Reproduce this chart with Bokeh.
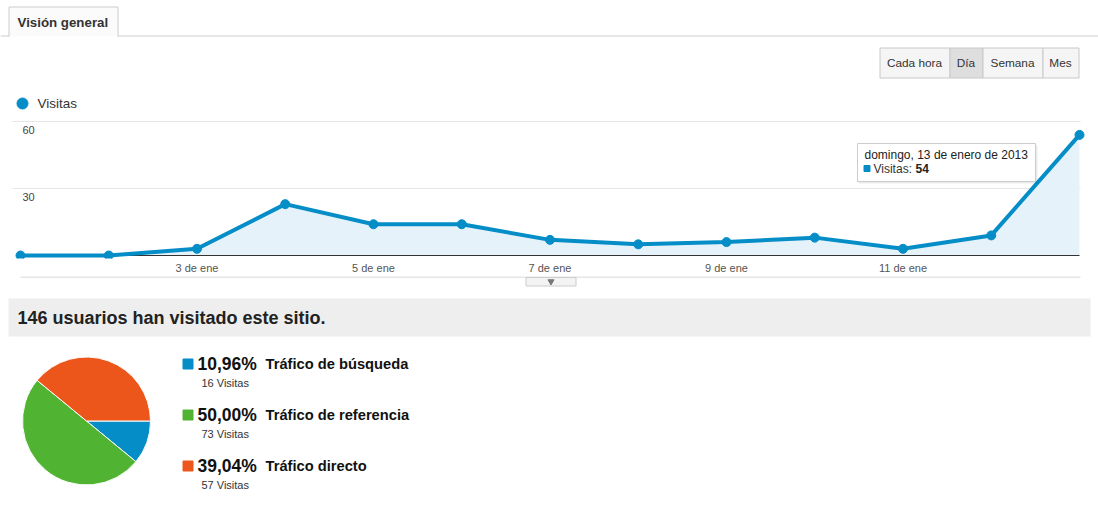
from bokeh.plotting import figure
from bokeh.layouts import column
from bokeh.models import Range1d, FixedTicker
from bokeh.core.properties import value
from bokeh.embed import file_html
from bokeh.resources import INLINE
import numpy as np

# ---------------- data ----------------
days = list(range(1, 14))
visits = [0, 0, 3, 23, 14, 14, 7, 5, 6, 8, 3, 9, 54]
x_tick_days = [3, 5, 7, 9, 11]
x_tick_labels = ["3 de ene", "5 de ene", "7 de ene", "9 de ene", "11 de ene"]
y_ticks = [30, 60]
series_name = "Visitas"
tooltip_date = "domingo, 13 de enero de 2013"
sources = ["Tráfico de búsqueda", "Tráfico de referencia", "Tráfico directo"]
source_visits = [16, 73, 57]
source_colors = ["#058dc7", "#50b432", "#ed561b"]
buttons = ["Cada hora", "Día", "Semana", "Mes"]
selected_button = "Día"
tab_title = "Visión general"

FONT = value("Liberation Sans")
BLUE = "#058dc7"
W = 1098


def base_fig(h):
    f = figure(width=W, height=h, x_range=Range1d(0, W), y_range=Range1d(0, h),
               output_backend="svg", toolbar_location=None,
               min_border=0, min_border_left=0, min_border_right=0,
               min_border_top=0, min_border_bottom=0,
               x_axis_location=None, y_axis_location=None, outline_line_color=None)
    f.grid.visible = False
    return f


# ---------------- header ----------------
HA = 113
pa = base_fig(HA)


def ya(py):
    return HA - py


# tab
pa.quad(left=8.5, right=117.5, top=ya(6.5), bottom=ya(36), fill_color="#fbfbfb", line_color=None)
pa.multi_line(xs=[[8.5, 8.5, 117.5, 117.5]], ys=[[ya(36), ya(6.5), ya(6.5), ya(36)]],
              line_color="#cccccc", line_width=1)
pa.multi_line(xs=[[0, 8.5], [117.5, W]], ys=[[ya(35.5), ya(35.5)], [ya(35.5), ya(35.5)]],
              line_color="#cccccc", line_width=1)
pa.text(x=[17], y=[ya(22)], text=[tab_title], text_font=FONT, text_font_size="13.3px",
        text_font_style="bold", text_color="#333333", text_baseline="middle")

# buttons
edges = [879, 949, 982, 1042, 1078]
for i, b in enumerate(buttons):
    sel = b == selected_button
    pa.quad(left=edges[i] + 0.5, right=edges[i + 1] + 0.5, top=ya(47.5), bottom=ya(77.5),
            fill_color="#dedede" if sel else "#f5f5f5", line_color="#c8c8c8", line_width=1)
    pa.text(x=[(edges[i] + edges[i + 1]) / 2], y=[ya(62)], text=[b], text_font=FONT,
            text_font_size="11.8px", text_color="#333333", text_align="center", text_baseline="middle")

# legend
pa.scatter(x=[22], y=[ya(103)], size=11, color=BLUE)
pa.text(x=[37], y=[ya(103)], text=[series_name], text_font=FONT, text_font_size="13.5px",
        text_color="#333333", text_baseline="middle")

# ---------------- line chart ----------------
PXU = 134 / 60.0
SP = 1059 / (days[-1] - days[0])   # pixels per day
HB = 163
pb = figure(width=W, height=HB,
            x_range=Range1d(days[0] - 20 / SP, days[-1] + 19 / SP),
            y_range=Range1d(-3 / PXU, 60 + 1 / PXU),
            output_backend="svg", toolbar_location=None,
            min_border_left=0, min_border_right=0, min_border_top=7, min_border_bottom=18,
            y_axis_location=None, outline_line_color=None)
pb.xgrid.visible = False
pb.ygrid.visible = False


def bx(px):
    return days[0] + (px - 20) / SP


def by(py):
    return (255 - py) / PXU


pb.segment(x0=[bx(12)] * len(y_ticks), x1=[bx(1080)] * len(y_ticks), y0=y_ticks, y1=y_ticks,
           line_color="#e6e6e6", line_width=1)
pb.varea(x=days, y1=[0] * len(days), y2=visits, fill_color="#e6f2f9")
pb.line(x=[days[0], days[-1]], y=[0, 0], line_color="#333333", line_width=1)
pb.line(x=days, y=visits, line_color=BLUE, line_width=4)
pb.scatter(x=days, y=visits, size=9, color=BLUE)

pb.text(x=[days[0]] * len(y_ticks), y=y_ticks, text=[str(t) for t in y_ticks], x_offset=2, y_offset=4,
        text_font=FONT, text_font_size="11px", text_color="#444444", text_baseline="top")

pb.xaxis.ticker = FixedTicker(ticks=x_tick_days)
pb.xaxis.major_label_overrides = {d: l for d, l in zip(x_tick_days, x_tick_labels)}
pb.xaxis.axis_line_color = None
pb.xaxis.major_tick_line_color = None
pb.xaxis.minor_tick_line_color = None
pb.xaxis.major_tick_out = 0
pb.xaxis.major_tick_in = 0
pb.xaxis.minor_tick_out = 0
pb.xaxis.major_label_standoff = 3
pb.xaxis.major_label_text_font = "Liberation Sans"
pb.xaxis.major_label_text_font_size = "11px"
pb.xaxis.major_label_text_color = "#555555"

# tooltip (positioned near the last point)
pb.quad(left=bx(858), right=bx(1037), top=by(145), bottom=by(183), fill_color="#000000",
        fill_alpha=0.08, line_color=None)
pb.quad(left=bx(857), right=bx(1035), top=by(143), bottom=by(181), fill_color="#ffffff",
        line_color="#cccccc", line_width=1)
pb.text(x=[bx(864)], y=[by(154)], text=[tooltip_date], text_font=FONT, text_font_size="12px",
        text_color="#222222", text_baseline="middle")
pb.scatter(x=[bx(866.5)], y=[by(168)], marker="square", size=6, color=BLUE)
pb.text(x=[bx(873)], y=[by(168)], text=[series_name + ":"], text_font=FONT, text_font_size="12px",
        text_color="#333333", text_baseline="middle")
pb.text(x=[bx(915)], y=[by(168)], text=[str(visits[-1])], text_font=FONT, text_font_size="12px",
        text_font_style="bold", text_color="#222222", text_baseline="middle")

# ---------------- summary + pie ----------------
TOPC = HA + HB
HC = 250
pc = base_fig(HC)


def yc(py):
    return HC - (py - TOPC)


pc.line(x=[20, 1080], y=[yc(276.5), yc(276.5)], line_color="#cccccc", line_width=1)
pc.quad(left=525.5, right=575.5, top=yc(277), bottom=yc(285.5), fill_color="#f3f3f3",
        line_color="#cccccc", line_width=1)
pc.scatter(x=[550.5], y=[yc(281)], marker="inverted_triangle", size=6, color="#777777")

pc.quad(left=8, right=1090, top=yc(298), bottom=yc(336), fill_color="#eeeeee", line_color=None)
total = sum(source_visits)
pc.text(x=[17], y=[yc(317)], text=[f"{total} usuarios han visitado este sitio."], text_font=FONT,
        text_font_size="18px", text_font_style="bold", text_color="#222222", text_baseline="middle")

frac = np.array(source_visits) / total
cum = np.cumsum(frac)
starts = list(-cum * 2 * np.pi)
ends = list(-(cum - frac) * 2 * np.pi)
pc.wedge(x=86, y=yc(420.5), radius=64, start_angle=starts, end_angle=ends,
         fill_color=source_colors, line_color="#ffffff", line_width=1)

for i, (name, v, c) in enumerate(zip(sources, source_visits, source_colors)):
    yr = 363.5 + 51 * i
    pct = f"{100 * v / total:.2f}%".replace(".", ",")
    pc.scatter(x=[187.5], y=[yc(yr)], marker="square", size=10, color=c)
    pc.text(x=[197], y=[yc(yr)], text=[pct], text_font=FONT, text_font_size="17.5px",
            text_font_style="bold", text_color="#111111", text_baseline="middle")
    pc.text(x=[265], y=[yc(yr)], text=[name], text_font=FONT, text_font_size="14.7px",
            text_font_style="bold", text_color="#111111", text_baseline="middle")
    pc.text(x=[201], y=[yc(yr + 19)], text=[f"{v} Visitas"], text_font=FONT, text_font_size="11px",
            text_color="#333333", text_baseline="middle")

layout = column(pa, pb, pc)
open("out.html", "w").write(file_html(layout, INLINE))
